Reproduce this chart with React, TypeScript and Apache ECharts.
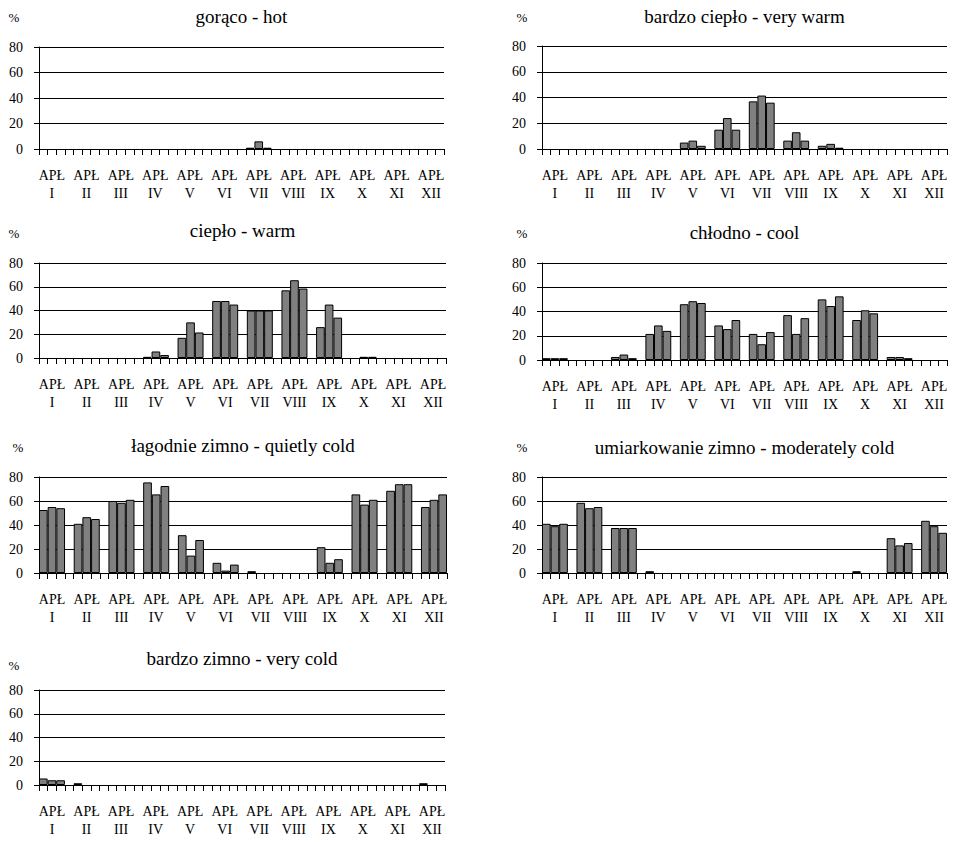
import React, { useEffect, useRef } from "react";
import * as echarts from "echarts";

const months = ["I", "II", "III", "IV", "V", "VI", "VII", "VIII", "IX", "X", "XI", "XII"];
const letters = ["A", "P", "Ł"];
const yTicks = [0, 20, 40, 60, 80];

// values per month: A, P, Ł (percent)
const hot = [0,0,0, 0,0,0, 0,0,0, 0,0,0, 0,0,0, 0,0,0, 1,6,1, 0,0,0, 0,0,0, 0,0,0, 0,0,0, 0,0,0];
const veryWarm = [0,0,0, 0,0,0, 0,0,0, 0,0,0, 5,6.5,2.5, 15,24,15, 37,41.5,36, 6.5,13,6.5, 2.5,4,1, 0,0,0, 0,0,0, 0,0,0];
const warm = [0,0,0, 0,0,0, 0,0,0, 1,5.5,2.5, 17,30,21.5, 48,48,45, 40,40,40, 57,65.5,58.5, 26,45,34, 0,1,1, 0,0,0, 0,0,0];
const cool = [1.5,1.5,1.5, 0,0,0, 2.5,4.5,1.5, 21.5,28.5,24, 46,48.5,47, 28.5,25.5,33, 21.5,13,23, 37,21.5,34.5, 50,44.5,52.5, 33,41,38.5, 2.5,2.5,1.5, 0,0,0];
const quietlyCold = [52.5,55,54, 41,46.5,45, 60,58.5,61, 75.5,65.5,72.5, 31.5,14.5,27.5, 8.5,2,7, 1.5,0,0, 0,0,0, 21.5,8.5,11.5, 65.5,57,61, 68.5,74,74, 55,61,65.5];
const moderatelyCold = [41,39,41, 58.5,54,55, 37.5,37.5,37.5, 1.5,0,0, 0,0,0, 0,0,0, 0,0,0, 0,0,0, 0,0,0, 1.5,0,0, 29,23,25, 43.5,39,33.5];
const veryCold = [5.5,4,4, 1.5,0,0, 0,0,0, 0,0,0, 0,0,0, 0,0,0, 0,0,0, 0,0,0, 0,0,0, 0,0,0, 0,0,0, 1.5,0,0];

const titles = [
  "gorąco - hot",
  "bardzo ciepło - very warm",
  "ciepło - warm",
  "chłodno - cool",
  "łagodnie zimno - quietly cold",
  "umiarkowanie zimno - moderately cold",
  "bardzo zimno - very cold",
];
const panelData = [hot, veryWarm, warm, cool, quietlyCold, moderatelyCold, veryCold];

// layout (pixels)
const panels = [
  { left: 39, width: 405, top: 47, height: 102, titleY: 16, pctX: 14, pctY: 17 },
  { left: 542, width: 405, top: 46, height: 103, titleY: 16, pctX: 522, pctY: 17 },
  { left: 39, width: 407, top: 263, height: 95, titleY: 230, pctX: 14, pctY: 233 },
  { left: 542, width: 405, top: 263, height: 97, titleY: 232, pctX: 522, pctY: 233 },
  { left: 39, width: 408, top: 477, height: 96, titleY: 445, pctX: 18, pctY: 447 },
  { left: 542, width: 405, top: 477, height: 96, titleY: 447, pctX: 522, pctY: 447 },
  { left: 39, width: 406, top: 690, height: 95, titleY: 658, pctX: 14, pctY: 665 },
];

const FONT = "Liberation Serif";

// 47 slots: 3 bars per month + 1 gap slot between months
const slots: string[] = [];
months.forEach((m, mi) => {
  letters.forEach((l) => slots.push(m + "-" + l));
  if (mi < months.length - 1) slots.push(m + "-gap");
});

function toSlots(values: number[]) {
  const out: (number | string)[] = [];
  months.forEach((_, mi) => {
    for (let k = 0; k < 3; k++) {
      const v = values[mi * 3 + k];
      out.push(v === 0 ? "-" : v);
    }
    if (mi < months.length - 1) out.push("-");
  });
  return out;
}

export default function App() {
  const ref = useRef<HTMLDivElement>(null);
  useEffect(() => {
    if (!ref.current) return;
    const chart = echarts.init(ref.current, undefined, { renderer: "svg" });
    const grid = panels.map((p) => ({ left: p.left, top: p.top, width: p.width, height: p.height }));
    const xAxis = panels.map((_, i) => ({
      type: "category",
      gridIndex: i,
      data: slots,
      boundaryGap: true,
      axisLine: { show: true, onZero: false, lineStyle: { color: "#000", width: 1 } },
      axisTick: {
        show: true,
        interval: 0,
        inside: false,
        alignWithLabel: false,
        length: 6,
        lineStyle: { color: "#000", width: 1 },
      },
      axisLabel: {
        show: true,
        interval: 0,
        margin: 17,
        fontSize: 14,
        lineHeight: 18,
        color: "#000",
        fontFamily: FONT,
        formatter: (_v: string, idx: number) =>
          idx % 4 === 1 ? "APŁ\n" + months[Math.floor(idx / 4)] : "",
      },
      splitLine: { show: false },
      z: 5,
    }));
    const yAxis = panels.map((_, i) => ({
      type: "value",
      gridIndex: i,
      min: yTicks[0],
      max: yTicks[yTicks.length - 1],
      interval: 20,
      axisLine: { show: true, lineStyle: { color: "#000", width: 1 } },
      axisTick: { show: true, length: 5, lineStyle: { color: "#000" } },
      axisLabel: { margin: 16, fontSize: 14, color: "#000", fontFamily: FONT },
      splitLine: { show: true, lineStyle: { color: "#000", width: 1 } },
    }));
    const series = panelData.map((vals, i) => ({
      type: "bar",
      xAxisIndex: i,
      yAxisIndex: i,
      data: toSlots(vals),
      barCategoryGap: "0%",
      itemStyle: { color: "#808080", borderColor: "#000", borderWidth: 1 },
    }));
    const graphic: any[] = [];
    panels.forEach((p, i) => {
      graphic.push({
        type: "text",
        x: p.left + p.width / 2,
        y: p.titleY,
        style: {
          text: titles[i],
          fontSize: 19,
          fontFamily: FONT,
          fill: "#000",
          align: "center",
          verticalAlign: "middle",
        },
      });
      graphic.push({
        type: "text",
        x: p.pctX,
        y: p.pctY,
        style: {
          text: "%",
          fontSize: 13,
          fontFamily: FONT,
          fill: "#000",
          align: "center",
          verticalAlign: "middle",
        },
      });
    });
    chart.setOption({
      animation: false,
      backgroundColor: "#fff",
      grid,
      xAxis,
      yAxis,
      series,
      graphic,
    });
    return () => chart.dispose();
  }, []);
  return (
    <div
      ref={ref}
      style={{ position: "absolute", left: 0, top: 0, width: 955, height: 842, background: "#fff" }}
    />
  );
}
